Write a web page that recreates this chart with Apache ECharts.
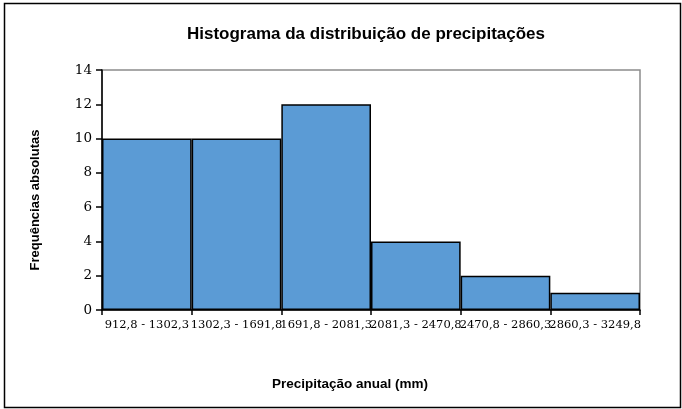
<!DOCTYPE html>
<html>
<head>
<meta charset="utf-8">
<script src="https://cdn.jsdelivr.net/npm/echarts@6/dist/echarts.min.js"></script>
<style>
  html, body { margin: 0; padding: 0; background: #fff; }
  #chart { width: 682px; height: 409px; }
</style>
</head>
<body>
<div id="chart"></div>
<script>
// classes de precipitação (mm) e frequências absolutas
var classes = ['912,8 - 1302,3', '1302,3 - 1691,8', '1691,8 - 2081,3', '2081,3 - 2470,8', '2470,8 - 2860,3', '2860,3 - 3249,8'];
var frequencias = [10, 10, 12, 4, 2, 1];

var chart = echarts.init(document.getElementById('chart'));

var option = {
  animation: false,
  backgroundColor: '#fff',
  title: {
    text: 'Histograma da distribuição de precipitações',
    left: 361,
    top: 21,
    textAlign: 'center',
    textStyle: { fontFamily: 'Liberation Sans', fontSize: 17, fontWeight: 'bold', color: '#000' }
  },
  graphic: [{
    type: 'rect',
    shape: { x: 4.5, y: 3.5, width: 676, height: 404 },
    style: { fill: 'none', stroke: '#000', lineWidth: 1.5 },
    silent: true
  }],
  grid: {
    left: 102, top: 70, right: 42, bottom: 99,
    show: true, borderColor: '#8c8c8c', borderWidth: 1.5, backgroundColor: 'transparent'
  },
  xAxis: {
    type: 'category',
    data: classes,
    name: 'Precipitação anual (mm)',
    nameLocation: 'middle',
    nameGap: 67,
    nameTextStyle: { fontFamily: 'Liberation Sans', fontSize: 13.5, fontWeight: 'bold', color: '#000', padding: [0, 42, 0, 0] },
    axisLine: { lineStyle: { color: '#000', width: 1.5 } },
    axisTick: { show: true, inside: false, length: 5, lineStyle: { color: '#000', width: 1.5 } },
    axisLabel: { interval: 0, margin: 9, fontFamily: 'DejaVu Serif', fontSize: 11.5, color: '#000' },
    splitLine: { show: false }
  },
  yAxis: {
    type: 'value',
    min: 0, max: 14, interval: 2,
    name: 'Frequências absolutas',
    nameLocation: 'middle',
    nameGap: 60,
    nameTextStyle: { fontFamily: 'Liberation Sans', fontSize: 13, fontWeight: 'bold', color: '#000', padding: [0, 20, 0, 0] },
    axisLine: { show: true, lineStyle: { color: '#000', width: 1.5 } },
    axisTick: { show: true, inside: false, length: 6, lineStyle: { color: '#000', width: 1.5 } },
    axisLabel: { margin: 10, fontFamily: 'DejaVu Serif', fontSize: 13.5, color: '#000' },
    splitLine: { show: false }
  },
  series: [{
    type: 'bar',
    data: frequencias,
    barCategoryGap: '0%',
    itemStyle: { color: '#5b9bd5', borderColor: '#000', borderWidth: 1.5 }
  }]
};

chart.setOption(option);
</script>
</body>
</html>
